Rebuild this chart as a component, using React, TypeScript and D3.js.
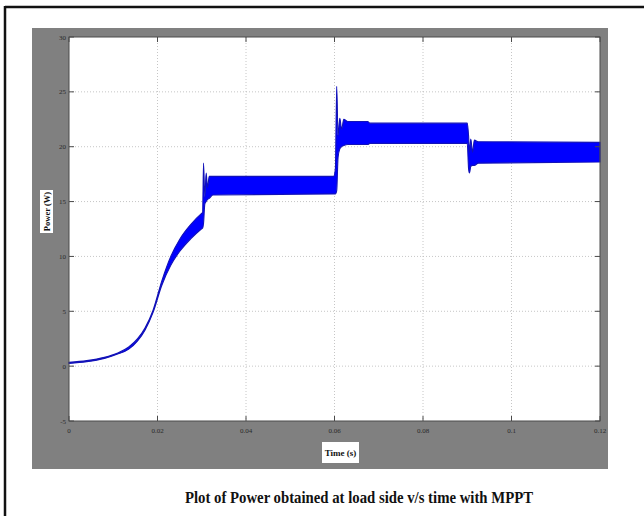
import React, { useEffect, useRef } from 'react';
import * as d3 from 'd3';

// envelope of the load power trace (upper / lower edge of the ripple band)
const timeS = [0, 0.004, 0.008, 0.011, 0.0135, 0.0155, 0.0172, 0.019, 0.021, 0.023, 0.025, 0.0275, 0.0299, 0.0302,
  0.0304, 0.0307, 0.031, 0.0313, 0.0317, 0.0325, 0.0598, 0.0602, 0.0605, 0.0608, 0.0612, 0.0616, 0.0621, 0.063,
  0.0675, 0.068, 0.09, 0.0903, 0.0905, 0.0908, 0.0912, 0.0916, 0.0925, 0.12];
const powerUpper = [0.35, 0.5, 0.8, 1.2, 1.75, 2.5, 3.5, 5.1, 7.8, 10.0, 11.55, 12.9, 13.9, 14.0,
  18.5, 15.4, 17.6, 16.3, 17.3, 17.3, 17.3, 18.0, 25.5, 21.0, 22.6, 21.6, 22.5, 22.3,
  22.3, 22.15, 22.15, 21.0, 19.5, 20.7, 19.5, 20.6, 20.45, 20.4];
const powerLower = [0.25, 0.4, 0.7, 1.1, 1.55, 2.3, 3.3, 4.9, 7.4, 9.2, 10.45, 11.6, 12.5, 12.6,
  13.0, 14.8, 15.0, 15.2, 15.3, 15.6, 15.7, 15.7, 16.0, 19.0, 19.8, 20.0, 20.1, 20.2,
  20.2, 20.3, 20.3, 18.0, 17.6, 18.2, 18.3, 18.3, 18.5, 18.6];

const xTicks = [0, 0.02, 0.04, 0.06, 0.08, 0.1, 0.12];
const xTickLabels = ['0', '0.02', '0.04', '0.06', '0.08', '0.1', '0.12'];
const yTicks = [30, 25, 20, 15, 10, 5, 0, -5];
const yTickLabels = ['30', '25', '20', '15', '10', '5', '0', '-5'];

export default function App() {
  const ref = useRef<SVGSVGElement | null>(null);

  useEffect(() => {
    if (!ref.current) return;
    const svg = d3.select(ref.current);
    svg.selectAll('*').remove();

    const left = 69, right = 600, top = 37, bottom = 421;
    const x = d3.scaleLinear().domain([0, 0.12]).range([left, right]);
    const y = d3.scaleLinear().domain([-5, 30]).range([bottom, top]);

    // page frame
    svg.append('rect').attr('width', 644).attr('height', 516).attr('fill', '#fff');
    svg.append('line').attr('x1', 5).attr('x2', 644).attr('y1', 7).attr('y2', 7)
      .attr('stroke', '#111').attr('stroke-width', 2.5);
    svg.append('line').attr('x1', 5).attr('x2', 5).attr('y1', 6).attr('y2', 516)
      .attr('stroke', '#111').attr('stroke-width', 2.5);

    // figure background
    svg.append('rect').attr('x', 32).attr('y', 28).attr('width', 576).attr('height', 441).attr('fill', '#808080');
    svg.append('rect').attr('x', left).attr('y', top).attr('width', right - left).attr('height', bottom - top)
      .attr('fill', '#fff');

    // grid
    const grid = svg.append('g').attr('stroke', '#b8b8b8').attr('stroke-width', 0.8).attr('stroke-dasharray', '1,2');
    xTicks.slice(1, -1).forEach(t => {
      grid.append('line').attr('x1', x(t)).attr('x2', x(t)).attr('y1', top).attr('y2', bottom);
    });
    yTicks.slice(1, -1).forEach(v => {
      grid.append('line').attr('x1', left).attr('x2', right).attr('y1', y(v)).attr('y2', y(v));
    });

    // power trace as ripple band
    const band = timeS.map((t, i) => ({ t, hi: powerUpper[i], lo: powerLower[i] }));
    svg.append('path')
      .datum(band)
      .attr('fill', '#0000ff')
      .attr('stroke', '#1212b8')
      .attr('stroke-width', 1.1)
      .attr('stroke-linejoin', 'round')
      .attr('d', d3.area<{ t: number; hi: number; lo: number }>()
        .curve(d3.curveMonotoneX)
        .x(d => x(d.t))
        .y0(d => y(d.lo))
        .y1(d => y(d.hi)));

    // axes box + inward ticks
    svg.append('rect').attr('x', left).attr('y', top).attr('width', right - left).attr('height', bottom - top)
      .attr('fill', 'none').attr('stroke', '#4a4a4a').attr('stroke-width', 1);
    const ticks = svg.append('g').attr('stroke', '#4a4a4a').attr('stroke-width', 1);
    xTicks.forEach(t => {
      ticks.append('line').attr('x1', x(t)).attr('x2', x(t)).attr('y1', bottom).attr('y2', bottom - 5);
      ticks.append('line').attr('x1', x(t)).attr('x2', x(t)).attr('y1', top).attr('y2', top + 5);
    });
    yTicks.forEach(v => {
      ticks.append('line').attr('x1', left).attr('x2', left + 5).attr('y1', y(v)).attr('y2', y(v));
      ticks.append('line').attr('x1', right).attr('x2', right - 5).attr('y1', y(v)).attr('y2', y(v));
    });

    // tick labels
    const font = "'Liberation Serif', 'Times New Roman', serif";
    svg.append('g').selectAll('text').data(xTicks).enter().append('text')
      .attr('x', d => x(d)).attr('y', bottom + 12)
      .attr('text-anchor', 'middle').attr('font-family', font).attr('font-size', 7).attr('fill', '#2a2a2a')
      .text((d, i) => xTickLabels[i]);
    svg.append('g').selectAll('text').data(yTicks).enter().append('text')
      .attr('x', left - 3).attr('y', d => y(d) + 2.5)
      .attr('text-anchor', 'end').attr('font-family', font).attr('font-size', 7).attr('fill', '#2a2a2a')
      .text((d, i) => yTickLabels[i]);

    // axis titles in white boxes
    svg.append('rect').attr('x', 40).attr('y', 190).attr('width', 13).attr('height', 43).attr('fill', '#fff');
    svg.append('text').attr('transform', 'translate(49.5,211.5) rotate(-90)')
      .attr('text-anchor', 'middle').attr('font-family', font).attr('font-weight', 'bold')
      .attr('font-size', 8.5).attr('fill', '#111').text('Power (W)');
    svg.append('rect').attr('x', 322).attr('y', 442).attr('width', 37).attr('height', 21).attr('fill', '#fff');
    svg.append('text').attr('x', 340.5).attr('y', 455.5)
      .attr('text-anchor', 'middle').attr('font-family', font).attr('font-weight', 'bold')
      .attr('font-size', 9).attr('fill', '#111').text('Time (s)');

    // caption
    svg.append('text').attr('x', 185).attr('y', 503)
      .attr('font-family', font).attr('font-weight', 'bold').attr('font-size', 17)
      .attr('textLength', 348).attr('lengthAdjust', 'spacingAndGlyphs')
      .attr('fill', '#111').text('Plot of Power obtained at load side v/s time with MPPT');
  }, []);

  return (
    <svg ref={ref} width={644} height={516} style={{ position: 'absolute', left: 0, top: 0 }} />
  );
}
